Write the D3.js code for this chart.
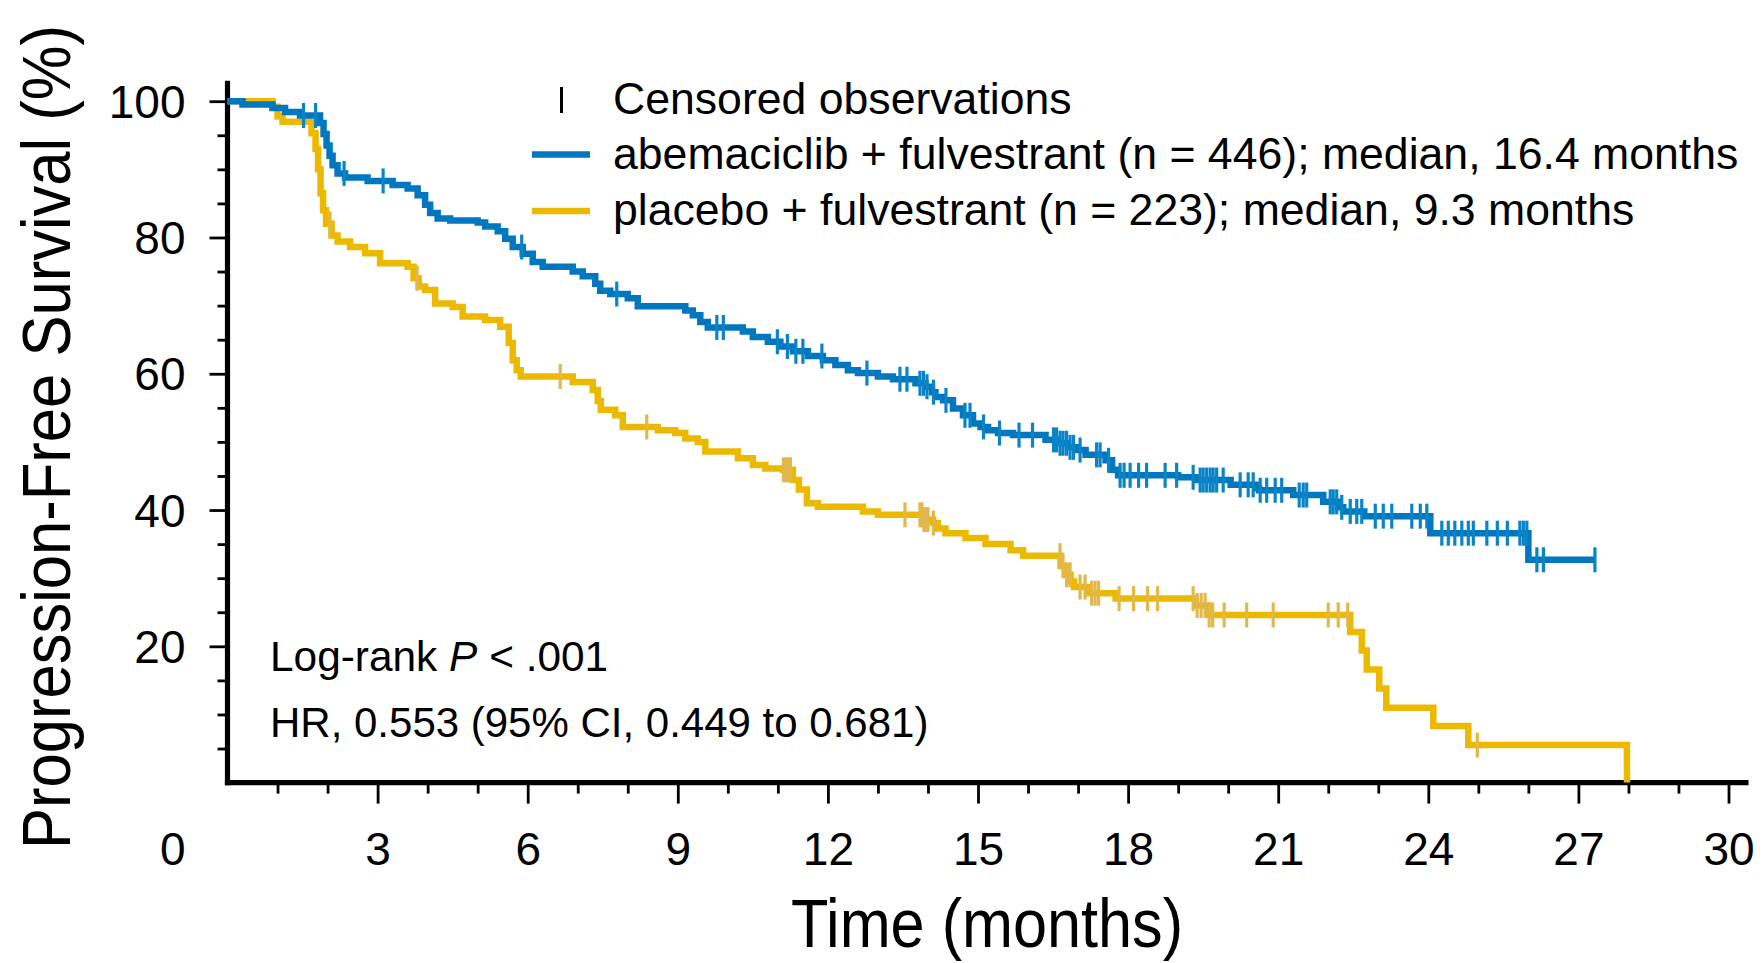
<!DOCTYPE html>
<html>
<head>
<meta charset="utf-8">
<script src="https://cdn.jsdelivr.net/npm/d3@7"></script>
<style>
  body { margin: 0; background: #fff; }
  svg { display: block; font-family: "Liberation Sans", Arial, sans-serif; }
</style>
</head>
<body>
<svg width="1763" height="963"></svg>
<script>
// step times (months) and survival (%) right after each step
let abemaTimes = [0, 0.3, 0.9, 1.15, 1.45, 1.85, 1.92, 1.98, 2.04, 2.1, 2.2, 2.35, 2.8, 3.3, 3.6, 3.8, 3.95, 4.05, 4.2, 4.45,
  5.0, 5.15, 5.4, 5.55, 5.7, 5.9, 6.1, 6.3, 6.9, 7.1, 7.35, 7.45, 7.65, 8.0, 8.2, 9.15, 9.3, 9.45, 9.6, 10.3,
  10.5, 10.8, 11.05, 11.3, 11.6, 11.9, 12.15, 12.4, 12.6, 13.0, 13.3, 13.75, 13.95, 14.08, 14.15, 14.3, 14.5, 14.7, 14.9, 15.05,
  15.2, 15.4, 15.7, 16.35, 16.6, 16.8, 17.0, 17.15, 17.55, 17.68, 17.8, 19.0, 19.35, 20.05, 20.55, 20.62, 21.3, 21.9, 22.2, 22.3,
  22.72, 24.04, 26.0];
let abemaSurv = [100, 99.5, 99.0, 98.4, 97.9, 96.8, 95.2, 93.5, 92.0, 90.6, 89.4, 88.8, 88.3, 87.7, 87.2, 86.2, 84.8, 83.6, 82.8, 82.5,
  82.2, 81.6, 80.9, 79.8, 78.6, 77.6, 76.4, 75.7, 75.0, 74.3, 73.2, 72.2, 71.7, 71.1, 69.9, 69.3, 68.6, 67.6, 66.8, 66.2,
  65.4, 64.7, 64.0, 63.3, 62.6, 62.0, 61.3, 60.5, 60.1, 59.6, 59.2, 58.6, 58.1, 57.3, 56.6, 56.1, 54.9, 53.9, 52.7, 52.2,
  51.7, 51.3, 51.0, 50.3, 49.8, 49.2, 48.8, 48.1, 47.3, 45.9, 45.1, 44.8, 44.4, 43.7, 43.2, 42.9, 42.2, 41.2, 40.4, 39.8,
  39.1, 36.6, 32.7];
let abemaEnd = 27.33;
let abemaCensored = [1.52, 1.76, 2.33, 3.11, 5.88, 7.78, 9.78, 9.91, 10.99, 11.19, 11.36, 11.5, 11.88, 12.78, 13.44, 13.58,
  13.84, 13.91, 13.98, 14.11, 14.36, 14.74, 14.84, 15.11, 15.43, 15.82, 16.09, 16.51, 16.57, 16.64, 16.7, 16.77, 16.84, 16.91,
  17.04, 17.37, 17.44, 17.61, 17.84, 17.92, 18.04, 18.21, 18.37, 18.74, 18.97, 19.3, 19.44, 19.5, 19.57, 19.64, 19.7, 19.77,
  19.9, 20.24, 20.4, 20.5, 20.64, 20.77, 20.94, 21.07, 21.42, 21.5, 21.57, 22.04, 22.1, 22.17, 22.27, 22.44, 22.57, 22.67,
  22.94, 23.1, 23.27, 23.67, 23.84, 23.97, 24.27, 24.4, 24.53, 24.67, 24.8, 24.9, 25.17, 25.38, 25.58, 25.83, 25.9, 25.97,
  26.17, 26.3, 27.33];

let placeboTimes = [0, 0.9, 1.0, 1.1, 1.68, 1.76, 1.81, 1.86, 1.91, 1.97, 2.08, 2.2, 2.45, 2.75, 3.05, 3.6, 3.72, 3.82, 3.95, 4.15,
  4.5, 4.7, 5.15, 5.45, 5.62, 5.7, 5.78, 5.86, 6.9, 7.3, 7.4, 7.46, 7.75, 7.9, 8.6, 8.95, 9.15, 9.4, 9.55, 10.2,
  10.5, 10.75, 11.1, 11.3, 11.42, 11.58, 11.8, 12.7, 13.0, 13.9, 14.1, 14.2, 14.35, 14.75, 15.15, 15.65, 15.9, 16.65, 16.75, 16.85,
  16.92, 17.2, 17.75, 19.35, 19.6, 22.44, 22.67, 22.77, 23.02, 23.16, 24.1, 24.8, 27.97];
let placeboSurv = [100, 99.2, 97.8, 97.0, 95.3, 93.0, 90.0, 86.5, 84.0, 82.0, 80.3, 79.4, 78.6, 77.7, 76.2, 75.7, 74.0, 72.8, 72.3, 70.3,
  69.8, 68.4, 67.9, 66.9, 64.5, 62.0, 60.5, 59.6, 58.8, 57.6, 56.0, 54.7, 53.9, 52.2, 51.7, 51.3, 50.5, 50.0, 48.6, 47.6,
  46.6, 46.1, 45.9, 44.4, 43.0, 41.0, 40.5, 39.8, 39.3, 38.6, 38.1, 37.3, 36.6, 35.9, 35.0, 34.1, 33.3, 31.8, 30.5, 29.5,
  28.7, 27.8, 27.0, 26.0, 24.6, 22.1, 19.4, 16.6, 13.8, 11.0, 8.3, 5.5, 0];
let placeboCensored = [2.05, 3.79, 6.65, 8.38, 11.11, 11.16, 11.21, 11.25, 13.54, 13.84, 13.88, 13.92, 13.96, 14.0, 14.11,
  16.64, 16.7, 16.77, 16.84, 17.04, 17.14, 17.27, 17.34, 17.41, 17.82, 18.11, 18.39, 18.59, 19.3, 19.38, 19.46, 19.54,
  19.62, 19.69, 19.92, 20.37, 20.9, 22.0, 22.2, 22.39, 24.98];

let xMajorTicks = [3, 6, 9, 12, 15, 18, 21, 24, 27, 30];
let xMinorTicks = [1, 2, 4, 5, 7, 8, 10, 11, 13, 14, 16, 17, 19, 20, 22, 23, 25, 26, 28, 29];
let yMajorTicks = [20, 40, 60, 80, 100];
let yMinorTicks = [5, 10, 15, 25, 30, 35, 45, 50, 55, 65, 70, 75, 85, 90, 95];

let legendLabels = [
  "Censored observations",
  "abemaciclib + fulvestrant (n = 446); median, 16.4 months",
  "placebo + fulvestrant (n = 223); median, 9.3 months"
];

let colors = {
  abema: "#0077be",
  abemaCensor: "#0a84c6",
  placebo: "#ebb900",
  placeboCensor: "#e2b74c",
};

render();

function render() {
  let svg = d3.select("svg");

  let xScale = d3.scaleLinear().domain([0, 30]).range([227.5, 1728.5]);
  let yScale = d3.scaleLinear().domain([0, 100]).range([782.6, 101.2]);

  renderAxes(svg, xScale, yScale);
  renderCurve(svg, xScale, yScale, placeboTimes, placeboSurv, null, colors.placebo);
  renderCurve(svg, xScale, yScale, abemaTimes, abemaSurv, abemaEnd, colors.abema);
  renderCensors(svg, xScale, yScale, placeboTimes, placeboSurv, placeboCensored, colors.placeboCensor);
  renderCensors(svg, xScale, yScale, abemaTimes, abemaSurv, abemaCensored, colors.abemaCensor);
  renderLegend(svg);
  renderNotes(svg);
}

function renderAxes(svg, xScale, yScale) {
  let x0 = xScale(0);
  let y0 = yScale(0);

  let yMajor = d3.axisLeft(yScale).tickValues(yMajorTicks).tickSize(18).tickFormat(d3.format("d"));
  let yMinor = d3.axisLeft(yScale).tickValues(yMinorTicks).tickSize(10).tickFormat("");
  let xMajor = d3.axisBottom(xScale).tickValues(xMajorTicks).tickSize(21).tickFormat(d3.format("d"));
  let xMinor = d3.axisBottom(xScale).tickValues(xMinorTicks).tickSize(11).tickFormat("");

  let gy = svg.append("g").attr("transform", `translate(${x0}, 0)`);
  gy.append("g").call(yMinor);
  gy.append("g").call(yMajor);

  let gx = svg.append("g").attr("transform", `translate(0, ${y0})`);
  gx.append("g").call(xMinor);
  gx.append("g").call(xMajor);

  svg.selectAll(".domain").remove();
  svg.selectAll(".tick line").attr("stroke", "#000").attr("stroke-width", 2.8);

  gy.selectAll(".tick text")
    .attr("x", -42)
    .attr("dy", "0.35em")
    .attr("font-size", 46)
    .attr("fill", "#000");
  gx.selectAll(".tick text")
    .attr("y", 66.4)
    .attr("dy", "0.35em")
    .attr("font-size", 46)
    .attr("fill", "#000");

  // shared origin label
  svg.append("text")
    .attr("x", x0 - 42)
    .attr("y", y0 + 66.4)
    .attr("dy", "0.35em")
    .attr("text-anchor", "end")
    .attr("font-size", 46)
    .text("0");

  svg.append("line")
    .attr("x1", x0).attr("x2", x0)
    .attr("y1", yScale(103)).attr("y2", y0 + 2.6)
    .attr("stroke", "#000").attr("stroke-width", 5.2);
  svg.append("line")
    .attr("x1", x0 - 2.6).attr("x2", xScale(30.4))
    .attr("y1", y0).attr("y2", y0)
    .attr("stroke", "#000").attr("stroke-width", 5.2);

  // axis titles use a slightly condensed face in the original
  svg.append("text")
    .attr("transform", `translate(70, 437) rotate(-90) scale(0.905, 1)`)
    .attr("text-anchor", "middle")
    .attr("font-size", 68)
    .text("Progression-Free Survival (%)");

  svg.append("text")
    .attr("transform", `translate(987, 947) scale(0.9, 1)`)
    .attr("text-anchor", "middle")
    .attr("font-size", 68)
    .text("Time (months)");
}

function renderCurve(svg, xScale, yScale, times, surv, endTime, color) {
  let points = times.map((t, i) => [t, surv[i]]);
  if (endTime !== null) {
    points.push([endTime, surv[surv.length - 1]]);
  }

  let line = d3.line()
    .x(d => xScale(d[0]))
    .y(d => yScale(d[1]))
    .curve(d3.curveStepAfter);

  svg.append("path")
    .datum(points)
    .attr("d", line)
    .attr("fill", "none")
    .attr("stroke", color)
    .attr("stroke-width", 6.5)
    .attr("stroke-linejoin", "miter");
}

function survivalAt(times, surv, t) {
  let i = d3.bisectRight(times, t) - 1;
  return surv[Math.max(i, 0)];
}

function renderCensors(svg, xScale, yScale, times, surv, censored, color) {
  let half = 12.5;
  svg.append("g")
    .selectAll("line")
    .data(censored)
    .enter()
    .append("line")
    .attr("x1", d => xScale(d))
    .attr("x2", d => xScale(d))
    .attr("y1", d => yScale(survivalAt(times, surv, d)) - half)
    .attr("y2", d => yScale(survivalAt(times, surv, d)) + half)
    .attr("stroke", color)
    .attr("stroke-width", 3.2);
}

function renderLegend(svg) {
  let textX = 613;
  let baselines = [113.5, 168.7, 225];

  svg.append("line")
    .attr("x1", 561.5).attr("x2", 561.5)
    .attr("y1", 87).attr("y2", 113)
    .attr("stroke", "#000").attr("stroke-width", 3);

  let lineData = [{y: 154.5, color: colors.abema}, {y: 211, color: colors.placebo}];
  svg.selectAll(".legend-line")
    .data(lineData)
    .enter()
    .append("line")
    .attr("class", "legend-line")
    .attr("x1", 532).attr("x2", 590)
    .attr("y1", d => d.y).attr("y2", d => d.y)
    .attr("stroke", d => d.color)
    .attr("stroke-width", 6.5);

  svg.selectAll(".legend-text")
    .data(legendLabels)
    .enter()
    .append("text")
    .attr("class", "legend-text")
    .attr("x", textX)
    .attr("y", (_, i) => baselines[i])
    .attr("font-size", 44.6)
    .text(d => d);
}

function renderNotes(svg) {
  let logRank = svg.append("text")
    .attr("x", 270)
    .attr("y", 671)
    .attr("font-size", 42.4);
  logRank.append("tspan").text("Log-rank ");
  logRank.append("tspan").attr("font-style", "italic").text("P");
  logRank.append("tspan").text(" < .001");

  svg.append("text")
    .attr("x", 270)
    .attr("y", 736.5)
    .attr("font-size", 42)
    .text("HR, 0.553 (95% CI, 0.449 to 0.681)");
}
</script>
</body>
</html>
